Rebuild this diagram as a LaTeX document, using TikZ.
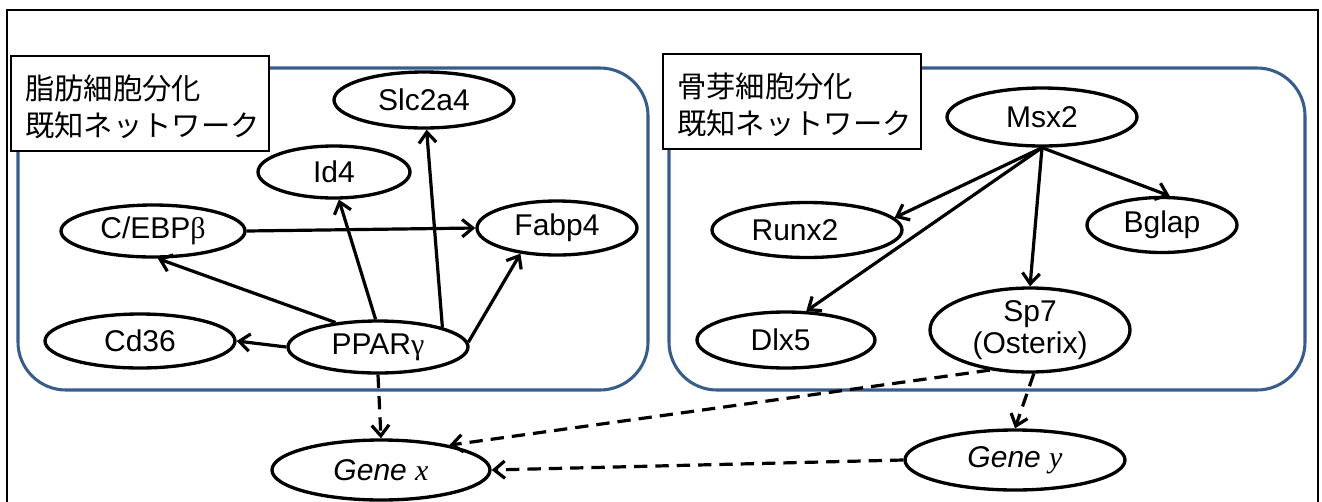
\documentclass[tikz,border=0pt]{standalone}
\usepackage{fontspec}
\setmainfont{Liberation Sans}
\newfontfamily\lserif{Liberation Serif}
\newfontfamily\cjk{Noto Sans CJK JP}
\usetikzlibrary{shapes.geometric,arrows.meta}
\definecolor{boxblue}{RGB}{56,93,138}
\begin{document}
\begin{tikzpicture}[x=0.75pt,y=-0.75pt,
  gn/.style 2 args={ellipse, draw, fill=white, line width=2.5pt, inner sep=0pt,
    minimum width=#1*0.75pt, minimum height=#2*0.75pt,
    font=\fontsize{22.5}{24}\selectfont, align=center},
  arr/.style={line width=2.4pt, -{Straight Barb[length=8pt,width=13pt]}},
  darr/.style={arr, dash pattern=on 10pt off 6pt},
  grp/.style={draw=boxblue, line width=2.3pt, rounded corners=36pt, inner sep=0pt},
  labbox/.style={draw, line width=1.5pt, fill=white, anchor=north west,
    inner sep=0pt, minimum width=193.5pt, minimum height=71.25pt},
  labtxt/.style={anchor=west, font=\cjk\fontsize{22}{27.75}\selectfont,
    align=left, inner sep=0pt}
]
\useasboundingbox (0,0) rectangle (1322,501);
\draw[line width=1.5pt] (7,10) rectangle (1318,530);

% group boxes
\node[grp, minimum width=472.5pt, minimum height=241.5pt] (grpA) at (333,229) {};
\node[grp, minimum width=477pt, minimum height=241.5pt] (grpB) at (987,229) {};

% labels
\node[labbox] (labA) at (10,55) {};
\node[labtxt] (labAt) at (25,107) {脂肪細胞分化\\既知ネットワーク};
\node[labbox] (labB) at (662,53) {};
\node[labtxt] (labBt) at (677,105) {骨芽細胞分化\\既知ネットワーク};

% nodes left
\node[gn={180}{56}] (slc) at (424,100) {Slc2a4};
\node[gn={152}{52}] (id4) at (334,172) {Id4};
\node[gn={184}{52}] (cebp) at (153,231) {C/EBP{\lserif β}};
\node[gn={160}{54}] (fabp) at (557,228) {Fabp4};
\node[gn={190}{54}] (cd36) at (140,341) {Cd36};
\node[gn={180}{52}] (ppar) at (378,347) {PPAR{\lserif γ}};
\node[gn={218}{60}] (genex) at (381,470) {\itshape Gene {\lserif x}};

% nodes right
\node[gn={190}{58}] (msx) at (1042,117) {Msx2};
\node[gn={190}{55}] (runx) at (807,230) {Runx2\hspace*{18pt}};
\node[gn={150}{55}] (bglap) at (1162,225) {Bglap};
\node[gn={178}{56}] (dlx) at (786,340) {Dlx5\hspace*{8pt}};
\node[gn={200}{84}] (sp7) at (1030,330) {Sp7\\(Osterix)};
\node[gn={220}{60}] (geney) at (1015,460) {\itshape Gene {\lserif y}};

% edges left
\draw[arr] (cebp.east) -- (fabp.west);
\draw[arr] (ppar.150) -- (cebp.-80);
\draw[arr] (ppar.west) -- (cd36.east);
\draw[arr] (ppar.95) -- (id4.-80);
\draw[arr] (ppar.17) -- (slc.-85);
\draw[arr] (ppar.3) -- (fabp.215);
\draw[darr] (ppar.south) -- (genex.north);

% edges right
\draw[arr] (msx.south) -- (runx.8);
\draw[arr] (msx.south) -- (bglap.75);
\draw[arr] (msx.south) -- (dlx.55);
\draw[arr] (msx.south) -- (sp7.north);
\draw[darr] (sp7.225) -- (genex.20);
\draw[darr] (sp7.-85) -- (geney.north);
\draw[darr] (geney.west) -- (genex.east);
\end{tikzpicture}
\end{document}
